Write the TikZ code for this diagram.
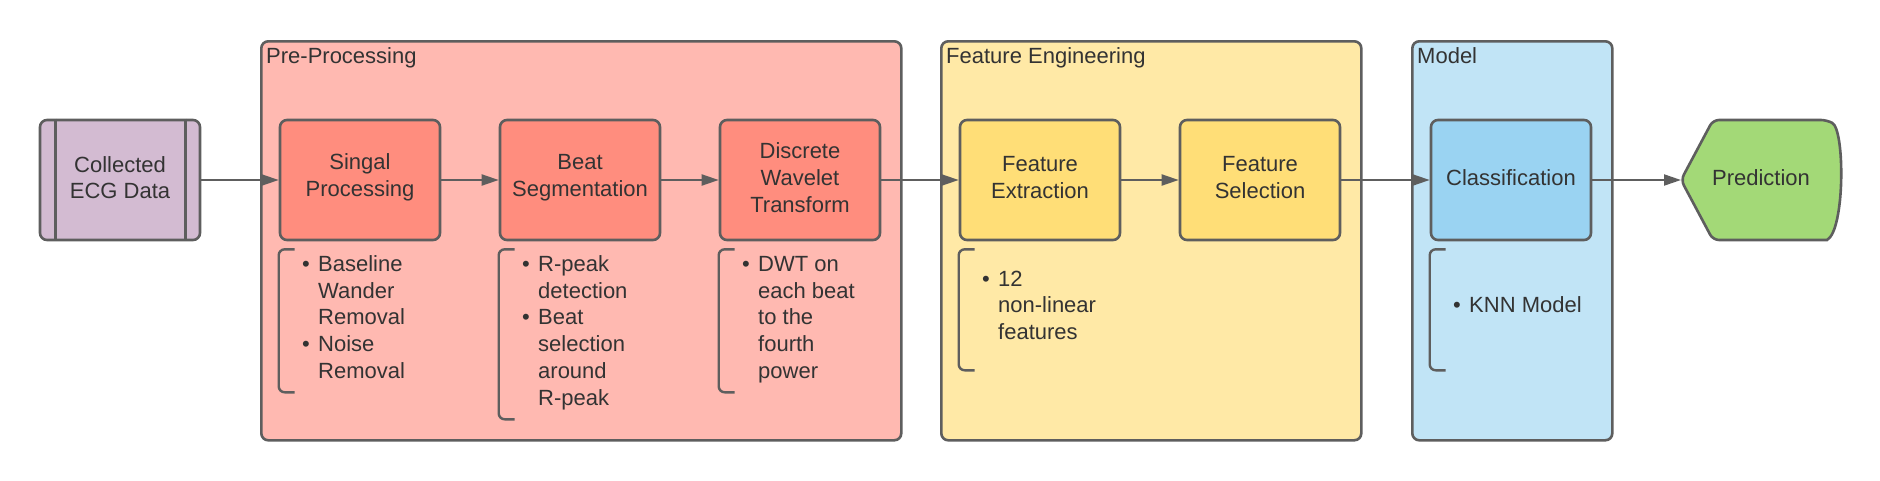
\documentclass[tikz,border=0pt]{standalone}
\usepackage{fontspec}
\setmainfont{Liberation Sans}
\usetikzlibrary{arrows.meta,calc}
\definecolor{linec}{HTML}{5E5E5E}
\definecolor{textc}{HTML}{333333}
\definecolor{ecgfill}{HTML}{D3BBD2}
\definecolor{ppfill}{HTML}{FFB9B1}
\definecolor{ppbox}{HTML}{FF8D7E}
\definecolor{fefill}{HTML}{FFE9A6}
\definecolor{febox}{HTML}{FFDE77}
\definecolor{mdfill}{HTML}{C1E4F6}
\definecolor{mdbox}{HTML}{9AD3F2}
\definecolor{predfill}{HTML}{A3D977}
\newcommand{\bfont}{\fontsize{22}{26.7}\selectfont}
\newcommand{\bl}{\makebox[16pt][l]{\textbullet}}
\newcommand{\ind}{\hspace*{16pt}}
\begin{document}
\begin{tikzpicture}[x=1pt,y=-1pt,
  container/.style={draw=linec, line width=2.6pt, rounded corners=7pt, anchor=north west, inner sep=0pt},
  procbox/.style={draw=linec, line width=2.6pt, rounded corners=7pt, minimum width=160pt, minimum height=120pt, inner sep=0pt},
  boxtext/.style={align=center, text=textc, font=\bfont, inner sep=0pt},
  ttl/.style={anchor=base west, text=textc, font=\fontsize{22}{26}\selectfont, inner sep=0pt},
  listnode/.style={anchor=base west, text=textc, inner sep=0pt},
  bracket/.style={draw=linec, line width=2.4pt, rounded corners=6pt},
  conn/.style={draw=linec, line width=2pt, -{Triangle[length=17pt,width=11pt]}}
]
\useasboundingbox (0,0) rectangle (1880,480);

% containers
\node[container, fill=ppfill, minimum width=640pt, minimum height=399pt] (pp) at (260,40) {};
\node[container, fill=fefill, minimum width=420pt, minimum height=399pt] (fe) at (940,40) {};
\node[container, fill=mdfill, minimum width=200pt, minimum height=399pt] (md) at (1411,40) {};
\node[ttl] (pptitle) at (266,63) {Pre-Processing};
\node[ttl] (fetitle) at (946,63) {Feature Engineering};
\node[ttl] (mdtitle) at (1417,63) {Model};

% boxes
\node[procbox, fill=ecgfill] (ecg) at (120,180) {};
\draw[draw=linec, line width=2.6pt] ($(ecg.north west)+(17,0)$) -- ($(ecg.south west)+(17,0)$);
\draw[draw=linec, line width=2.6pt] ($(ecg.north east)+(-16,0)$) -- ($(ecg.south east)+(-16,0)$);
\node[procbox, fill=ppbox] (sig) at (360,180) {};
\node[procbox, fill=ppbox] (beat) at (580,180) {};
\node[procbox, fill=ppbox] (dwt) at (800,180) {};
\node[procbox, fill=febox] (fext) at (1040,180) {};
\node[procbox, fill=febox] (fsel) at (1260,180) {};
\node[procbox, fill=mdbox] (cls) at (1511,180) {};
\node[boxtext] (ecgt) at ($(ecg)+(0,-2.5)$) {Collected\\ECG Data};
\node[boxtext] (sigt) at ($(sig)+(0,-2.5)$) {Singal\\Processing};
\node[boxtext] (beatt) at ($(beat)+(0,-2.5)$) {Beat\\Segmentation};
\node[boxtext] (dwtt) at ($(dwt)+(0,-2.5)$) {Discrete\\Wavelet\\Transform};
\node[boxtext] (fextt) at ($(fext)+(0,-2.5)$) {Feature\\Extraction};
\node[boxtext] (fselt) at ($(fsel)+(0,-2.5)$) {Feature\\Selection};
\node[boxtext] (clst) at ($(cls)+(0,-2)$) {Classification};

% prediction
\coordinate (predtip) at (1681,180);
\draw[draw=linec, line width=2.6pt, fill=predfill, rounded corners=6pt]
  (predtip) -- (1713,120) -- (1827,120) [sharp corners] .. controls (1845,130) and (1845,230) .. (1827,240) [rounded corners=6pt] -- (1713,240) -- cycle;
\node[boxtext] (pred) at (1761,177.5) {Prediction};

% brackets
\draw[bracket] ($(sig.south west)+(16,8)$) -- ($(sig.south west)+(0,8)$) -- ($(sig.south west)+(0,151)$) -- ($(sig.south west)+(16,151)$);
\draw[bracket] ($(beat.south west)+(16,8)$) -- ($(beat.south west)+(0,8)$) -- ($(beat.south west)+(0,178)$) -- ($(beat.south west)+(16,178)$);
\draw[bracket] ($(dwt.south west)+(16,8)$) -- ($(dwt.south west)+(0,8)$) -- ($(dwt.south west)+(0,151)$) -- ($(dwt.south west)+(16,151)$);
\draw[bracket] ($(fext.south west)+(16,8)$) -- ($(fext.south west)+(0,8)$) -- ($(fext.south west)+(0,129)$) -- ($(fext.south west)+(16,129)$);
\draw[bracket] ($(cls.south west)+(16,8)$) -- ($(cls.south west)+(0,8)$) -- ($(cls.south west)+(0,129)$) -- ($(cls.south west)+(16,129)$);

% lists
\node[listnode] (l1) at (302,271.5) {\parbox[t]{160pt}{\bfont\raggedright \bl Baseline\\\ind Wander\\\ind Removal\\\bl Noise\\\ind Removal}};
\node[listnode] (l2) at (522,271.5) {\parbox[t]{160pt}{\bfont\raggedright \bl R-peak\\\ind detection\\\bl Beat\\\ind selection\\\ind around\\\ind R-peak}};
\node[listnode] (l3) at (742,271.5) {\parbox[t]{160pt}{\bfont\raggedright \bl DWT on\\\ind each beat\\\ind to the\\\ind fourth\\\ind power}};
\node[listnode] (l4) at (982,286) {\parbox[t]{160pt}{\bfont\raggedright \bl 12\\\ind non-linear\\\ind features}};
\node[listnode] (l5) at (1453,312.5) {\parbox[t]{160pt}{\bfont\raggedright \bl KNN Model}};

% connectors
\draw[conn] (ecg.east) -- (sig.west);
\draw[conn] (sig.east) -- (beat.west);
\draw[conn] (beat.east) -- (dwt.west);
\draw[conn] (dwt.east) -- (fext.west);
\draw[conn] (fext.east) -- (fsel.west);
\draw[conn] (fsel.east) -- (cls.west);
\draw[conn] (cls.east) -- (predtip);
\end{tikzpicture}
\end{document}
